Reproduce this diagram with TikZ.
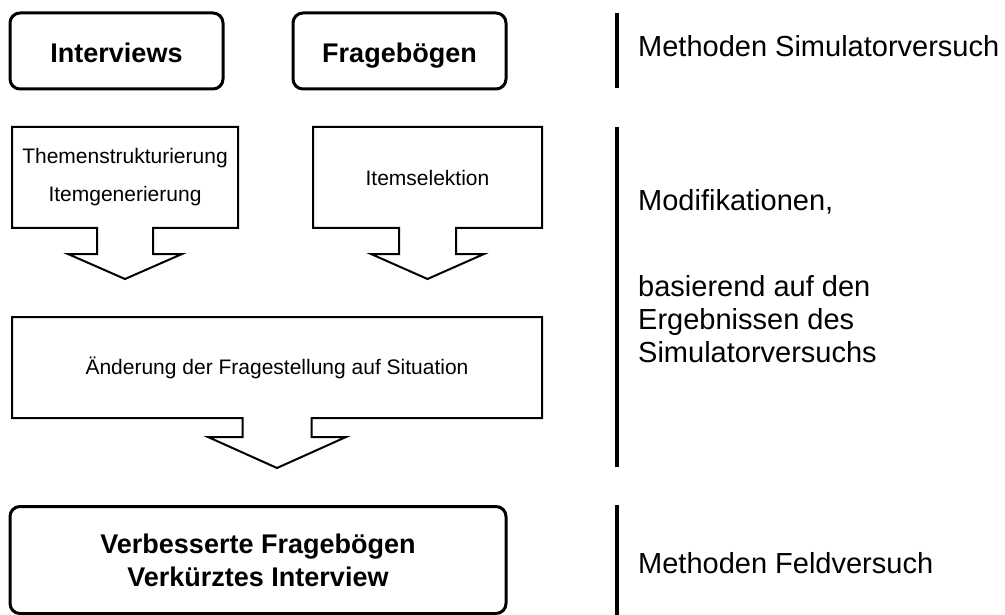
\documentclass[tikz,border=0pt]{standalone}
\usepackage{fontspec}
\setmainfont{Liberation Sans}
\usetikzlibrary{positioning,calc}

\begin{document}
\begin{tikzpicture}[
  x=1pt,y=-1pt,
  node distance=70pt,
  source/.style={draw,line width=3pt,rounded corners=10pt,inner sep=0pt,outer sep=0pt,align=center,font=\fontsize{27}{33}\selectfont\bfseries},
  topbox/.style={source,minimum width=213pt,minimum height=76pt,text height=26pt,text depth=3.2pt},
  block/.style={inner sep=0pt,outer sep=0pt,minimum height=101pt,align=center,font=\fontsize{21}{38}\selectfont},
  blockline/.style={line width=2pt,line join=miter},
  note/.style={anchor=west,inner sep=0pt,align=left,font=\fontsize{29}{33}\selectfont},
  bar/.style={line width=3.5pt}
]
  \useasboundingbox (0,0) rectangle (1005,615);

  % sources
  \node[topbox] (interviews) at (116.5,51) {Interviews};
  \node[topbox,right=of interviews] (frageb) {Fragebögen};

  % processing steps
  \node[block,minimum width=226pt] (thema) at (125,177.5) {Themenstrukturierung\\Itemgenerierung};
  \node[block,minimum width=229pt,right=75pt of thema] (itemsel) {Itemselektion};
  \node[block,minimum width=530pt,below=89pt of thema.south west,anchor=north west] (aenderung) {Änderung der Fragestellung auf Situation};

  \foreach \n/\w/\s/\h/\t in {thema/28/26/57/25,itemsel/28.5/26/56.5/25,aenderung/34.5/19/69/31}
    \draw[blockline] ($(\n.south)+(\w,0)$) -- (\n.south east) -- (\n.north east)
      -- (\n.north west) -- (\n.south west) -- ($(\n.south)+(-\w,0)$)
      -- ($(\n.south)+(-\w,\s)$) -- ($(\n.south)+(-\h,\s)$)
      -- ($(\n.south)+(0,\s+\t)$) -- ($(\n.south)+(\h,\s)$)
      -- ($(\n.south)+(\w,\s)$) -- cycle;

  % result
  \node[source,minimum width=496pt,minimum height=107pt] (result) at (258,560) {Verbesserte Fragebögen\\Verkürztes Interview};

  % phase notes
  \draw[bar] (617,13) -- (617,88);
  \draw[bar] (617,127) -- (617,467);
  \draw[bar] (617,505) -- (617,615);
  \node[note] (simmeth) at (638,46) {Methoden Simulatorversuch};
  \node[note] (modif) at (638,202) {Modifikationen,};
  \node[note] (basis) at (638,319) {basierend auf den\\Ergebnissen des\\Simulatorversuchs};
  \node[note] (feldmeth) at (638,563) {Methoden Feldversuch};
\end{tikzpicture}
\end{document}
